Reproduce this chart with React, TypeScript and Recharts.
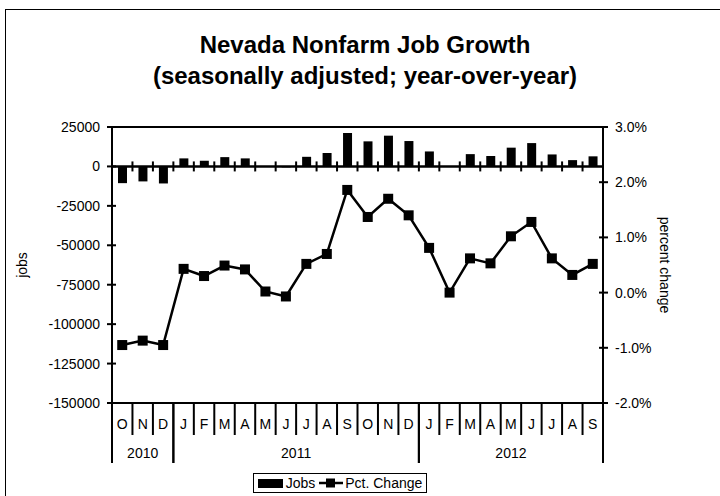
import React from 'react';
import { ComposedChart, Bar, Line, XAxis, YAxis, ReferenceLine, Legend } from 'recharts';

const months = ['O', 'N', 'D', 'J', 'F', 'M', 'A', 'M', 'J', 'J', 'A', 'S', 'O', 'N', 'D', 'J', 'F', 'M', 'A', 'M', 'J', 'J', 'A', 'S'];
const years = [
  '2010', '2010', '2010',
  '2011', '2011', '2011', '2011', '2011', '2011', '2011', '2011', '2011', '2011', '2011', '2011',
  '2012', '2012', '2012', '2012', '2012', '2012', '2012', '2012', '2012',
];
// year-over-year change in jobs
const jobs = [-10600, -9500, -10800, 5100, 3600, 5900, 5100, 200, -600, 6100, 8500, 21200, 15900, 19500, 16100, 9500, 0, 7800, 6600, 11900, 14800, 7600, 4000, 6400];
// percent change, right axis
const pctChange = [-0.95, -0.87, -0.95, 0.43, 0.3, 0.49, 0.42, 0.02, -0.07, 0.52, 0.7, 1.86, 1.37, 1.7, 1.4, 0.81, 0.0, 0.62, 0.53, 1.02, 1.28, 0.62, 0.32, 0.52];

const jobTicks = [-150000, -125000, -100000, -75000, -50000, -25000, 0, 25000];
const pctTicks = [-2, -1, 0, 1, 2, 3];

const data = months.map((m, i) => ({ key: `${years[i]}-${i}`, month: m, jobs: jobs[i], pct: pctChange[i] }));

const FONT = '"Liberation Sans", Arial, sans-serif';

function MonthTick(props: any) {
  const { x, y, payload } = props;
  const i = props.index ?? payload.index;
  const half = payload.offset || 10.2;
  const left = x - half;
  const right = x + half;
  const yearStart = i === 0 || years[i - 1] !== years[i];
  const yearEnd = i === years.length - 1 || years[i + 1] !== years[i];
  const count = years.filter((yr) => yr === years[i]).length;
  return (
    <g>
      <line x1={left} x2={left} y1={y} y2={y + (yearStart ? 60 : 32)} stroke="#000" strokeWidth={2} />
      {yearEnd && <line x1={right} x2={right} y1={y} y2={y + 60} stroke="#000" strokeWidth={2} />}
      <text x={x} y={y + 21} textAnchor="middle" dominantBaseline="central" fontSize={14} fill="#000">
        {months[i]}
      </text>
      {yearStart && (
        <text x={left + count * half} y={y + 50} textAnchor="middle" dominantBaseline="central" fontSize={14} fill="#000">
          {years[i]}
        </text>
      )}
    </g>
  );
}

function LeftTick({ x, y, payload }: any) {
  return (
    <g>
      <line x1={x - 5} x2={x + 4} y1={y} y2={y} stroke="#000" strokeWidth={2} />
      <text x={x - 12} y={y} textAnchor="end" dominantBaseline="central" fontSize={14} fill="#000">
        {payload.value}
      </text>
    </g>
  );
}

function RightTick({ x, y, payload }: any) {
  return (
    <g>
      <line x1={x - 4} x2={x + 5} y1={y} y2={y} stroke="#000" strokeWidth={2} />
      <text x={x + 12} y={y} textAnchor="start" dominantBaseline="central" fontSize={14} fill="#000">
        {`${Number(payload.value).toFixed(1)}%`}
      </text>
    </g>
  );
}

// zero line with cross ticks at category boundaries
function ZeroLine(props: any) {
  const { x1, x2, y1 } = props;
  const step = (x2 - x1) / jobs.length;
  return (
    <g>
      <line x1={x1} x2={x2} y1={y1} y2={y1} stroke="#000" strokeWidth={2.5} />
      {jobs.map((_, i) => (
        <line key={i} x1={x1 + step * (i + 1)} x2={x1 + step * (i + 1)} y1={y1 - 5} y2={y1 + 5} stroke="#000" strokeWidth={2} />
      ))}
    </g>
  );
}

function SquareDot({ cx, cy }: any) {
  if (cx == null || cy == null) return null;
  return <rect x={cx - 5} y={cy - 5} width={10} height={10} fill="#000" />;
}

function LegendBox() {
  return (
    <div
      style={{
        display: 'inline-flex',
        alignItems: 'center',
        border: '1px solid #000',
        padding: '1px 4px 1px 4px',
        fontSize: 14,
        fontFamily: FONT,
        lineHeight: '16px',
        background: '#fff',
      }}
    >
      <span style={{ display: 'inline-block', width: 25, height: 9, background: '#000', marginRight: 3 }} />
      <span style={{ marginRight: 4 }}>Jobs</span>
      <svg width={24} height={12} style={{ marginRight: 2 }}>
        <line x1={0} x2={24} y1={6} y2={6} stroke="#000" strokeWidth={2.5} />
        <rect x={7} y={1.5} width={9} height={9} fill="#000" />
      </svg>
      <span>Pct. Change</span>
    </div>
  );
}

export default function App() {
  return (
    <div style={{ position: 'relative', width: 720, height: 496, overflow: 'hidden', background: '#fff', fontFamily: FONT }}>
      <style>{'body{margin:0}'}</style>
      <div
        style={{
          position: 'absolute',
          left: 5,
          top: 9,
          width: 730,
          height: 500,
          border: '1.5px solid #000',
          boxSizing: 'border-box',
        }}
      />
      <div
        style={{
          position: 'absolute',
          left: 10,
          top: 29,
          width: 710,
          textAlign: 'center',
          fontSize: 24,
          fontWeight: 'bold',
          lineHeight: '31px',
          color: '#000',
        }}
      >
        Nevada Nonfarm Job Growth
        <br />
        (seasonally adjusted; year-over-year)
      </div>
      <ComposedChart
        width={720}
        height={496}
        data={data}
        margin={{ top: 127, right: 0, bottom: 27, left: 0 }}
        barSize={9}
        style={{ position: 'absolute', left: 0, top: 0 }}
      >
        <XAxis
          dataKey="key"
          height={66}
          interval={0}
          tickSize={0}
          tickMargin={0}
          tickLine={false}
          axisLine={{ stroke: '#000', strokeWidth: 2 }}
          tick={<MonthTick />}
        />
        <YAxis
          yAxisId="left"
          width={112}
          domain={[-150000, 25000]}
          ticks={jobTicks}
          interval={0}
          tickSize={0}
          tickMargin={0}
          tickLine={false}
          axisLine={{ stroke: '#000', strokeWidth: 2 }}
          tick={<LeftTick />}
          label={({ viewBox }: any) => (
            <text
              x={viewBox.x + 22}
              y={viewBox.y + viewBox.height / 2}
              transform={`rotate(-90 ${viewBox.x + 22} ${viewBox.y + viewBox.height / 2})`}
              textAnchor="middle"
              dominantBaseline="central"
              fontSize={14}
              fill="#000"
            >
              jobs
            </text>
          )}
        />
        <YAxis
          yAxisId="right"
          orientation="right"
          width={117}
          domain={[-2, 3]}
          ticks={pctTicks}
          interval={0}
          tickSize={0}
          tickMargin={0}
          tickLine={false}
          axisLine={{ stroke: '#000', strokeWidth: 2 }}
          tick={<RightTick />}
          label={({ viewBox }: any) => (
            <text
              x={viewBox.x + 62}
              y={viewBox.y + viewBox.height / 2}
              transform={`rotate(90 ${viewBox.x + 62} ${viewBox.y + viewBox.height / 2})`}
              textAnchor="middle"
              dominantBaseline="central"
              fontSize={14}
              fill="#000"
            >
              percent change
            </text>
          )}
        />
        <ReferenceLine yAxisId="left" y={25000} stroke="#000" strokeWidth={2} />
        <Bar yAxisId="left" dataKey="jobs" name="Jobs" fill="#000" isAnimationActive={false} />
        <ReferenceLine yAxisId="left" y={0} shape={<ZeroLine />} />
        <Line
          yAxisId="right"
          type="linear"
          dataKey="pct"
          name="Pct. Change"
          stroke="#000"
          strokeWidth={2.5}
          dot={<SquareDot />}
          activeDot={false}
          isAnimationActive={false}
        />
        <Legend
          layout="horizontal"
          verticalAlign="middle"
          align="center"
          wrapperStyle={{ top: 473, left: 0, width: 680, textAlign: 'center' }}
          content={() => <LegendBox />}
        />
      </ComposedChart>
    </div>
  );
}
